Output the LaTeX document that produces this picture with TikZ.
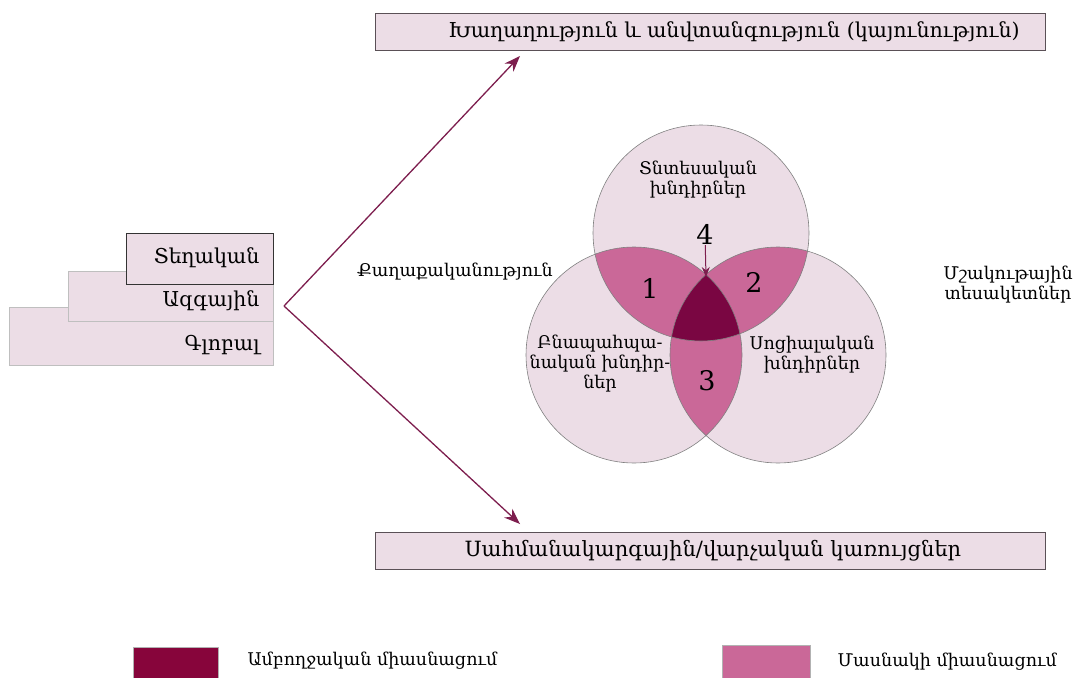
\documentclass[tikz,border=0pt]{standalone}
\usepackage{fontspec}
\setmainfont{DejaVu Serif}
\usepackage{tikz}
\usetikzlibrary{arrows.meta}
\definecolor{venlight}{RGB}{236,221,230}
\definecolor{venmid}{RGB}{202,104,152}
\definecolor{vendark}{RGB}{122,6,66}
\definecolor{arrowplum}{RGB}{125,30,78}
\definecolor{boxedge}{RGB}{90,80,86}
\tikzset{
  bigbox/.style={draw=boxedge, fill=venlight, line width=0.8pt, minimum width=670pt, minimum height=37pt},
  bigtext/.style={font=\fontsize{20.5}{23}\selectfont},
  lbox/.style={draw=black!25, fill=venlight, line width=0.6pt, anchor=north west},
  lboxtext/.style={anchor=east, font=\fontsize{20.5}{23}\selectfont},
  reach/.style={-{Stealth[length=16pt,width=12pt]}, arrowplum, line width=1.3pt},
  vlabel/.style={align=center, font=\fontsize{17.5}{20}\selectfont},
  vnum/.style={font=\fontsize{27}{29}\selectfont}
}
\begin{document}
\begin{tikzpicture}[x=1pt,y=-1pt]
        \useasboundingbox (0,0) rectangle (1081,677);
        % top and bottom boxes
        \node[bigbox] (peace) at (710,32) {};
        \node[bigtext] (peacetxt) at (734,32) {Խաղաղություն և անվտանգություն (կայունություն)};
        \node[bigbox] (admin) at (710,551) {};
        \node[bigtext, font=\fontsize{21}{24}\selectfont] (admintxt) at (713,551) {Սահմանակարգային/վարչական կառույցներ};
        % levels
        \node[lbox, minimum width=264pt, minimum height=58pt] (glob) at (9,307) {};
        \node[lbox, minimum width=205pt, minimum height=50pt] (natl) at (68,271) {};
        \node[lbox, draw=black!80, minimum width=147pt, minimum height=51pt] (locl) at (126,233) {};
        \node[lboxtext] (globtxt) at (263,345) {Գլոբալ};
        \node[lboxtext] (natltxt) at (263,301) {Ազգային};
        \node[lboxtext] (locltxt) at (263,258) {Տեղական};
        % arrows
        \coordinate (apex) at (284,306);
        \coordinate (uptip) at (520,56);
        \coordinate (downtip) at (520,524);
        \draw[reach] (apex) -- (uptip);
        \draw[reach] (apex) -- (downtip);
        % venn
        \coordinate (ctop) at (701,233);
        \coordinate (cleft) at (634,355);
        \coordinate (cright) at (778,355);
        \fill[venlight] (ctop) circle (108pt) (cleft) circle (108pt) (cright) circle (108pt);
        \begin{scope}
          \clip (ctop) circle (108pt);
          \fill[venmid] (cleft) circle (108pt);
          \fill[venmid] (cright) circle (108pt);
        \end{scope}
        \begin{scope}
          \clip (cleft) circle (108pt);
          \fill[venmid] (cright) circle (108pt);
          \clip (cright) circle (108pt);
          \fill[vendark] (ctop) circle (108pt);
        \end{scope}
        \draw[black!50, line width=0.6pt] (ctop) circle (108pt) (cleft) circle (108pt) (cright) circle (108pt);
        \node[vlabel] (econ) at (698,180) {Տնտեսական\\խնդիրներ};
        \node[vlabel] (envi) at (600,364) {Բնապահպա-\\նական խնդիր-\\ներ};
        \node[vlabel] (socl) at (812,355) {Սոցիալական\\խնդիրներ};
        \node[vnum] (n1) at (650,288) {1};
        \node[vnum] (n2) at (754,282) {2};
        \node[vnum] (n3) at (707,381) {3};
        \node[vnum, inner sep=1pt] (n4) at (705,234) {4};
        \coordinate (triptop) at (706,277);
        \draw[-{Stealth[length=10pt,width=8pt]}, arrowplum, line width=1pt] (n4) -- (triptop);
        % side labels
        \node[vlabel] (poli) at (455,272) {Քաղաքականություն};
        \node[vlabel] (cult) at (1008,285) {Մշակութային\\տեսակետներ};
        % legend
        \node[draw=black!30, fill=vendark!90!red, minimum width=85pt, minimum height=32pt, anchor=north west] (keyfull) at (133,647) {};
        \node[anchor=west, vlabel] (keyfulltxt) at (244,661) {Ամբողջական միասնացում};
        \node[draw=black!30, fill=venmid, minimum width=88pt, minimum height=34pt, anchor=north west] (keypart) at (722,645) {};
        \node[anchor=west, vlabel] (keyparttxt) at (834,662) {Մասնակի միասնացում};
\end{tikzpicture}
\end{document}
